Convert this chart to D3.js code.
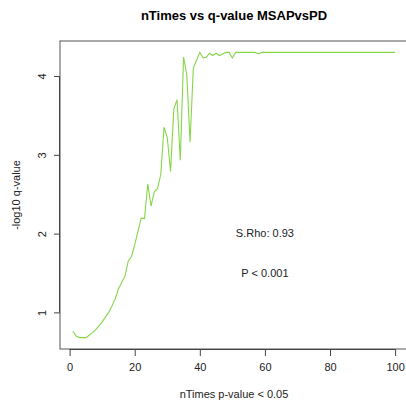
<!DOCTYPE html>
<html><head><meta charset="utf-8">
<script src="https://cdn.jsdelivr.net/npm/d3@7"></script>
<style>html,body{margin:0;padding:0;background:#fff;}svg{display:block;font-family:"Liberation Sans",Arial,sans-serif;}</style>
</head><body><svg id="c" width="406" height="406"></svg>
<script>
const nTimes = d3.range(1, 101);
const qValues = [
 0.76,0.70,0.68,0.68,0.68,0.71,0.74,0.78,0.83,0.88,
 0.94,1.00,1.08,1.17,1.30,1.38,1.46,1.65,1.71,1.86,
 2.03,2.20,2.19,2.63,2.35,2.53,2.57,2.75,3.35,3.22,
 2.79,3.58,3.70,2.93,4.24,4.02,3.16,4.10,4.20,4.30,
 4.23,4.24,4.29,4.26,4.29,4.26,4.28,4.30,4.30,4.23,
 4.30,4.30,4.30,4.30,4.30,4.30,4.30,4.28,4.30,4.30,
 4.30,4.30,4.30,4.30,4.30,4.30,4.30,4.30,4.30,4.30,
 4.30,4.30,4.30,4.30,4.30,4.30,4.30,4.30,4.30,4.30,
 4.30,4.30,4.30,4.30,4.30,4.30,4.30,4.30,4.30,4.30,
 4.30,4.30,4.30,4.30,4.30,4.30,4.30,4.30,4.30,4.30];
const xTicks = [0,20,40,60,80,100];
const yTicks = [1,2,3,4];
const title = "nTimes vs q-value MSAPvsPD";
const xLabel = "nTimes p-value < 0.05";
const yLabel = "-log10 q-value";
const annotations = [{x:60, y:2, text:"S.Rho: 0.93"},{x:60, y:1.5, text:"P < 0.001"}];

const svg = d3.select("#c");
const L = 60, R = 408, T = 41, B = 349;
function pad(ext){const r=ext[1]-ext[0];return [ext[0]-0.04*r, ext[1]+0.04*r];}
const x = d3.scaleLinear().domain(pad(d3.extent(nTimes))).range([L, R]);
const y = d3.scaleLinear().domain(pad(d3.extent(qValues))).range([B, T]);

// box
svg.append("rect").attr("x",L).attr("y",T).attr("width",R-L).attr("height",B-T)
  .attr("fill","none").attr("stroke","#555").attr("stroke-width",1);

// line
const data = nTimes.map((d,i)=>[d,qValues[i]]);
svg.append("path").datum(data)
  .attr("fill","none").attr("stroke","#86d64a").attr("stroke-width",1.1)
  .attr("d", d3.line().x(d=>x(d[0])).y(d=>y(d[1])));

// x axis
const gx = svg.append("g").attr("transform",`translate(0,${B})`)
  .call(d3.axisBottom(x).tickValues(xTicks).tickSize(7).tickPadding(7).tickSizeOuter(0));
gx.select(".domain").attr("d",`M${x(0)},0.5H${x(100)}`).attr("stroke","#444");
gx.selectAll(".tick line").attr("stroke","#444");
gx.selectAll("text").attr("font-size",11).attr("fill","#222").attr("font-family","Liberation Sans, Arial, sans-serif");

// y axis
const gy = svg.append("g").attr("transform",`translate(${L},0)`)
  .call(d3.axisLeft(y).tickValues(yTicks).tickSize(6).tickSizeOuter(0).tickFormat(d3.format("d")));
gy.select(".domain").attr("d",`M-0.5,${y(1)}V${y(4)}`).attr("stroke","#444");
gy.selectAll(".tick line").attr("stroke","#444");
gy.selectAll(".tick text").attr("font-size",11).attr("fill","#222")
  .attr("font-family","Liberation Sans, Arial, sans-serif")
  .attr("x",null).attr("dy",null)
  .attr("text-anchor","middle")
  .attr("transform","translate(-14,0) rotate(-90)");

// title
svg.append("text").attr("x",(L+R)/2).attr("y",20).attr("text-anchor","middle")
  .attr("font-size",13).attr("font-weight","bold").attr("fill","#000").text(title);
// x label
svg.append("text").attr("x",(L+R)/2).attr("y",398).attr("text-anchor","middle")
  .attr("font-size",11).attr("fill","#222").text(xLabel);
// y label
svg.append("text").attr("transform",`translate(20,${(T+B)/2}) rotate(-90)`).attr("text-anchor","middle")
  .attr("font-size",11).attr("fill","#222").text(yLabel);

// annotations
svg.selectAll(".ann").data(annotations).enter().append("text")
  .attr("x",d=>x(d.x)).attr("y",d=>y(d.y)).attr("dy","0.35em").attr("text-anchor","middle")
  .attr("font-size",11).attr("fill","#222").text(d=>d.text);
</script></body></html>
